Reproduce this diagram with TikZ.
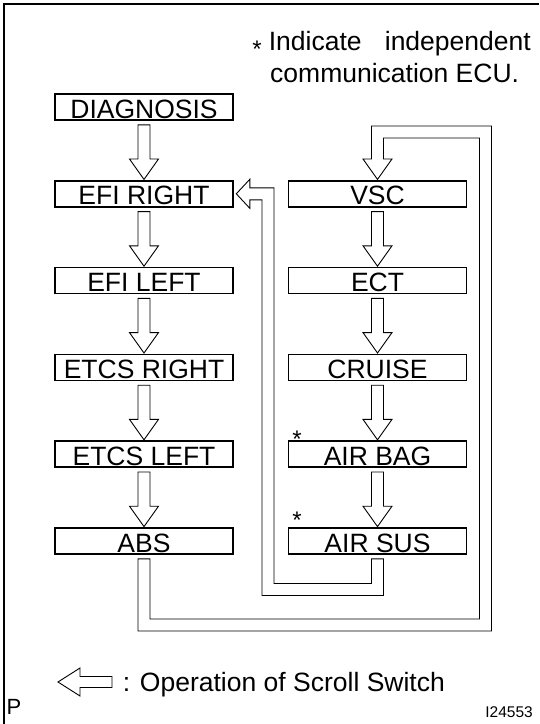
\documentclass[tikz,border=0pt]{standalone}
\usepackage{fontspec}
\setmainfont{Liberation Sans}
\usetikzlibrary{calc}
\tikzset{
  box/.style={draw, line width=1.6pt, minimum width=178pt, minimum height=26pt,
    inner sep=0pt, text height=22pt, text depth=0pt, font=\fontsize{26.5}{28}\selectfont},
  harrow/.style={draw, line width=0.9pt, fill=white, line join=miter},
  note/.style={inner sep=0pt, font=\fontsize{26.5}{30}\selectfont},
  star/.style={inner sep=0pt, anchor=base, font=\fontsize{24}{26}\selectfont},
}
\newcommand\vhollow[2]{%
  \draw[harrow] let \p1=(#1.south), \p2=(#2.north) in
    (\x1-6pt,\y1-4pt) -- (\x1-6pt,\y2+21pt) -- (\x1-14.5pt,\y2+21pt) --
    (\x1,\y2+0.6pt) -- (\x1+14.5pt,\y2+21pt) -- (\x1+6pt,\y2+21pt) --
    (\x1+6pt,\y1-4pt) -- cycle;}
\begin{document}
\begin{tikzpicture}[x=1pt,y=-1pt]
\useasboundingbox (0,0) rectangle (539,724);
% frame (top and left only)
\draw[line width=2pt] (4.3,724) -- (4.3,4.3) -- (539,4.3);

% note
\node[star] (s0) at (257,57.5) {*};
\node[note, anchor=base west] (n1) at (268.6,50) {\makebox[262pt][l]{Indicate\hfill independent}};
\node[note, anchor=base west] (n2) at (270,82.5) {communication ECU.};

% boxes
\node[box] (diag)   at (144,107)   {DIAGNOSIS};
\node[box] (efir)   at (144,193.8) {EFI RIGHT};
\node[box] (efil)   at (144,280.6) {EFI LEFT};
\node[box] (etcsr)  at (144,367.4) {ETCS RIGHT};
\node[box] (etcsl)  at (144,454.2) {ETCS LEFT};
\node[box] (abs)    at (144,541)   {ABS};
\node[box] (vsc)    at (377.5,193.8) {VSC};
\node[box] (ect)    at (377.5,280.6) {ECT};
\node[box] (cruise) at (377.5,367.4) {CRUISE};
\node[box] (airbag) at (377.5,454.2) {AIR BAG};
\node[box] (airsus) at (377.5,541)   {AIR SUS};

\node[star] (s1) at (297,447.3) {*};
\node[star] (s2) at (297,528.8) {*};

% straight arrows
\vhollow{diag}{efir}
\vhollow{efir}{efil}
\vhollow{efil}{etcsr}
\vhollow{etcsr}{etcsl}
\vhollow{etcsl}{abs}
\vhollow{vsc}{ect}
\vhollow{ect}{cruise}
\vhollow{cruise}{airbag}
\vhollow{airbag}{airsus}

% routing points
\coordinate (loopcorner) at (485.5,625);
\coordinate (looptop) at (0,132);
\coordinate (backcorner) at (268,589.5);

% loop from ABS round to VSC
\draw[harrow] let \p1=(abs.south), \p2=(vsc.north), \p3=(loopcorner), \p4=(looptop) in
  (\x2+6pt,\y2+21pt) -- (\x2+6pt,\y4-6pt) -- (\x3-6pt,\y4-6pt) -- (\x3-6pt,\y3+6pt)
  -- (\x1+6pt,\y3+6pt) -- (\x1+6pt,\y1-4pt) -- (\x1-6pt,\y1-4pt) -- (\x1-6pt,\y3-6pt)
  -- (\x3+6pt,\y3-6pt) -- (\x3+6pt,\y4+6pt) -- (\x2-6pt,\y4+6pt) -- (\x2-6pt,\y2+21pt)
  -- (\x2-14.5pt,\y2+21pt) -- (\x2,\y2+0.6pt) -- (\x2+14.5pt,\y2+21pt) -- cycle;

% loop from AIR SUS back to EFI RIGHT
\draw[harrow] let \p1=(airsus.south), \p2=(efir.east), \p3=(backcorner) in
  (\x2+16pt,\y2+6pt) -- (\x3+6pt,\y2+6pt) -- (\x3+6pt,\y3+6pt) -- (\x1-6pt,\y3+6pt)
  -- (\x1-6pt,\y1-4pt) -- (\x1+6pt,\y1-4pt) -- (\x1+6pt,\y3-6pt) -- (\x3-6pt,\y3-6pt)
  -- (\x3-6pt,\y2-6pt) -- (\x2+16pt,\y2-6pt) -- (\x2+16pt,\y2-14.5pt)
  -- (\x2+2.5pt,\y2) -- (\x2+16pt,\y2+14.5pt) -- cycle;

% legend
\node[note, anchor=base west] (leg) at (122.6,691) {: Operation of Scroll Switch};
\draw[harrow] (112,676.5) -- (80,676.5) -- (80,668) -- (58,682) -- (80,696) -- (80,687.5) -- (112,687.5) -- cycle;

% corner labels
\node[inner sep=0pt, anchor=base west, font=\fontsize{22}{24}\selectfont] (p) at (6.5,714) {P};
\node[inner sep=0pt, anchor=base east, font=\fontsize{15.5}{17}\selectfont] (id) at (533,717) {I24553};
\end{tikzpicture}
\end{document}
